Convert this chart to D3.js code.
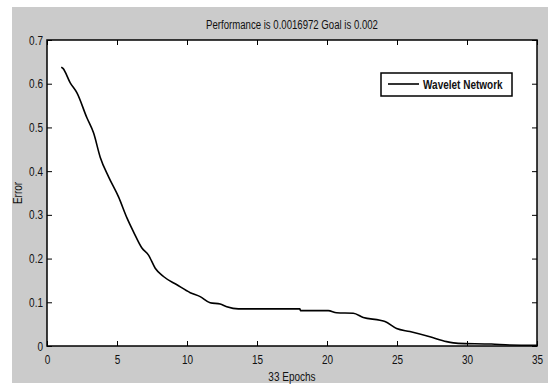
<!DOCTYPE html>
<html>
<head>
<meta charset="utf-8">
<script src="https://cdn.jsdelivr.net/npm/d3@7"></script>
<style>
  body { margin: 0; background: #fff; }
  svg text { font-family: "Liberation Sans", Arial, sans-serif; fill: #111; }
</style>
</head>
<body>
<svg width="548" height="385"></svg>
<script>
const width = 548, height = 385;

// training curve
const epochs = [1.02, 1.14, 1.66, 2.14, 2.85, 3.33, 3.8, 4.4, 5.11, 5.71, 6.18, 6.78, 7.25, 7.73, 8.32, 9.28,
  10.23, 10.94, 11.65, 12.37, 12.84, 13.67, 18.07, 18.1, 20.09, 20.69, 21.88, 22.59, 23.78, 24.14, 24.97,
  25.92, 27.35, 28.54, 29.37, 31.75, 33.05, 35];
const errors = [0.638, 0.635, 0.602, 0.579, 0.522, 0.487, 0.432, 0.387, 0.341, 0.293, 0.261, 0.224, 0.208, 0.178, 0.159, 0.14,
  0.122, 0.113, 0.099, 0.096, 0.09, 0.085, 0.085, 0.081, 0.081, 0.076, 0.075, 0.065, 0.059, 0.056, 0.04,
  0.033, 0.021, 0.01, 0.006, 0.0046, 0.0023, 0.0017];
const xTicks = [0, 5, 10, 15, 20, 25, 30, 35];
const yTicks = [0, 0.1, 0.2, 0.3, 0.4, 0.5, 0.6, 0.7];
const seriesName = "Wavelet Network";

const margin = {top: 40, right: 11, bottom: 39, left: 47};
const innerW = width - margin.left - margin.right,
      innerH = height - margin.top - margin.bottom;

// squeeze text sideways, the original uses a condensed face
function narrow(sel, f = 0.84) {
  sel.each(function() {
    const len = this.getComputedTextLength();
    if (len > 0) d3.select(this).attr("textLength", len * f).attr("lengthAdjust", "spacingAndGlyphs");
  });
}

const svg = d3.select("svg");

// grey figure background
svg.append("rect")
  .attr("x", 12).attr("y", 7)
  .attr("width", width - 12).attr("height", height - 9)
  .attr("fill", "#cbcbcb");

const g = svg.append("g")
  .attr("transform", `translate(${margin.left}, ${margin.top})`);

const x = d3.scaleLinear().domain([0, 35]).range([0, innerW]);
const y = d3.scaleLinear().domain([0, 0.7]).range([innerH, 0]);

g.append("rect")
  .attr("width", innerW).attr("height", innerH)
  .attr("fill", "#fff");

// axes, ticks pointing inwards like matlab
g.append("g")
  .attr("transform", `translate(0, ${innerH})`)
  .call(d3.axisBottom(x).tickValues(xTicks).tickSize(-5).tickPadding(9).tickFormat(d3.format("d")))
  .call(a => a.select(".domain").remove());
g.append("g")
  .call(d3.axisTop(x).tickValues(xTicks).tickSize(-5).tickFormat(""))
  .call(a => a.select(".domain").remove());
g.append("g")
  .call(d3.axisLeft(y).tickValues(yTicks).tickSize(-5).tickPadding(4).tickFormat(d => d === 0 ? "0" : d3.format(".1f")(d)))
  .call(a => a.select(".domain").remove());
g.append("g")
  .attr("transform", `translate(${innerW}, 0)`)
  .call(d3.axisRight(y).tickValues(yTicks).tickSize(-5).tickFormat(""))
  .call(a => a.select(".domain").remove());

g.selectAll(".tick text").attr("font-size", 12.5).attr("fill", "#111").call(narrow, 0.8);
g.selectAll(".tick line").attr("stroke", "#000");

g.append("rect")
  .attr("width", innerW).attr("height", innerH)
  .attr("fill", "none").attr("stroke", "#000").attr("stroke-width", 1.5);

const line = d3.line()
  .x((d, i) => x(epochs[i]))
  .y(d => y(d))
  .curve(d3.curveMonotoneX);

g.append("path")
  .datum(errors)
  .attr("fill", "none")
  .attr("stroke", "#000")
  .attr("stroke-width", 1.6)
  .attr("d", line);

// legend
const leg = svg.append("g").attr("transform", "translate(381, 73)");
leg.append("rect")
  .attr("width", 131).attr("height", 23)
  .attr("fill", "#fff").attr("stroke", "#000").attr("stroke-width", 1.5);
leg.append("line")
  .attr("x1", 7).attr("x2", 38).attr("y1", 11).attr("y2", 11)
  .attr("stroke", "#000").attr("stroke-width", 1.6);
leg.append("text")
  .attr("x", 42).attr("y", 16)
  .attr("font-size", 12.5).attr("font-weight", "bold")
  .text(seriesName)
  .call(narrow, 0.8);

// title
svg.append("text")
  .attr("x", margin.left + innerW / 2).attr("y", 29)
  .attr("font-size", 12)
  .attr("text-anchor", "middle")
  .text("Performance is 0.0016972 Goal is 0.002")
  .call(narrow, 0.8);

// X label
svg.append("text")
  .attr("x", margin.left + innerW / 2).attr("y", 381)
  .attr("font-size", 12.5)
  .attr("text-anchor", "middle")
  .text("33 Epochs")
  .call(narrow, 0.8);

// Y label
svg.append("text")
  .attr("transform", `translate(22, ${margin.top + innerH / 2}) rotate(-90)`)
  .attr("font-size", 12.5)
  .attr("text-anchor", "middle")
  .text("Error")
  .call(narrow, 0.8);
</script>
</body>
</html>
